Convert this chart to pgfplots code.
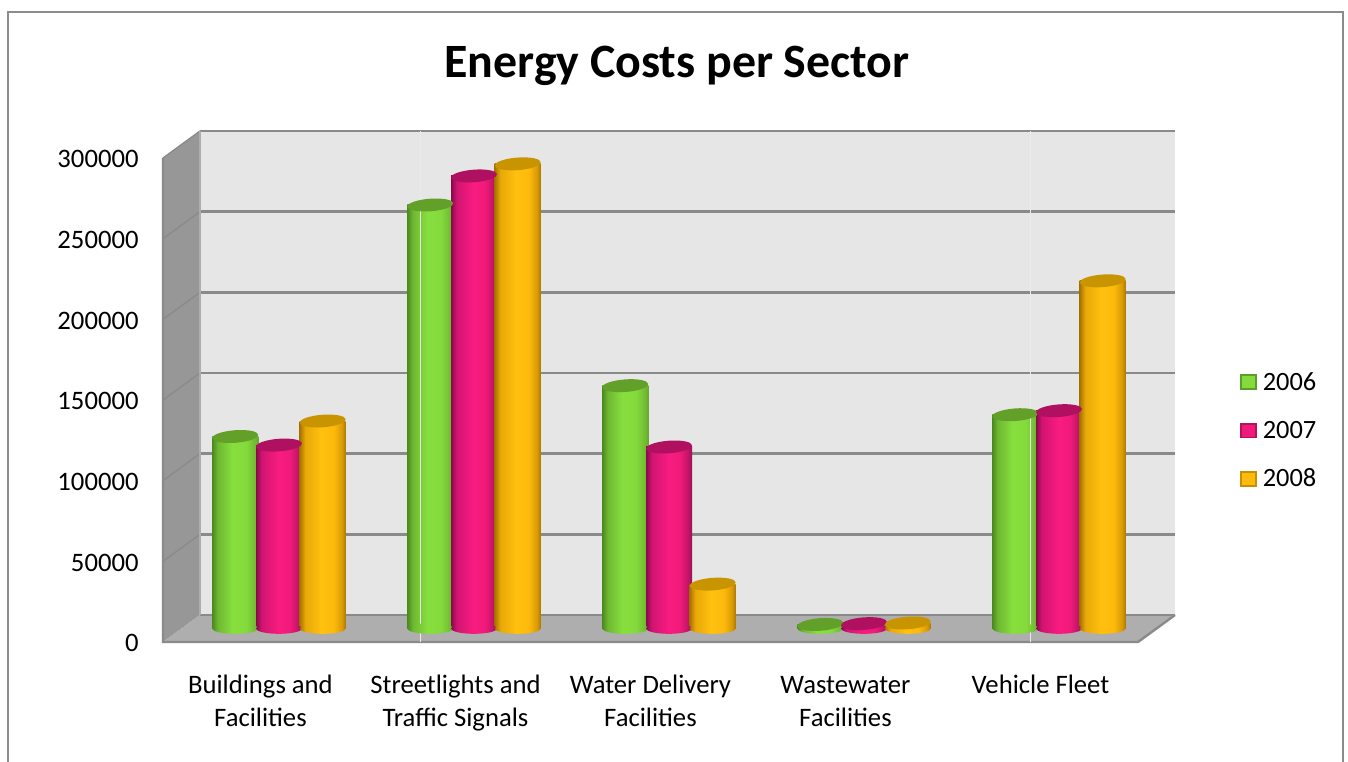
\documentclass[border=0pt]{standalone}
\usepackage{fontspec}
\setmainfont{Carlito}
\usepackage{pgfplots}
\pgfplotsset{compat=1.18}

\definecolor{wallback}{HTML}{E6E6E6}
\definecolor{wallside}{HTML}{979797}
\definecolor{wallfloor}{HTML}{AEAEAE}
\definecolor{gridgray}{HTML}{8A8A8A}
\definecolor{framegray}{HTML}{8C8C8C}
\definecolor{greentop}{HTML}{62A02A}
\definecolor{magentatop}{HTML}{B01060}
\definecolor{orangetop}{HTML}{C89400}
\definecolor{greenface}{HTML}{85DB3C}
\definecolor{magentaface}{HTML}{EF1A7A}
\definecolor{orangeface}{HTML}{FFBB0D}
\definecolor{greenrim}{HTML}{5C9E2C}
\definecolor{magentarim}{HTML}{B5125E}
\definecolor{orangerim}{HTML}{C88F00}
% Stops of the cylinder sides
\definecolor{ga}{HTML}{4A8A1E}\definecolor{gb}{HTML}{6FB832}\definecolor{gc}{HTML}{87DF3E}
\definecolor{gd}{HTML}{84DA3C}\definecolor{ge}{HTML}{70B832}\definecolor{gf}{HTML}{68A82E}
\definecolor{ma}{HTML}{850A48}\definecolor{mb}{HTML}{D01470}\definecolor{mc}{HTML}{F91C80}
\definecolor{md}{HTML}{F01A7A}\definecolor{me}{HTML}{C01466}\definecolor{mf}{HTML}{9A0E54}
\definecolor{oa}{HTML}{A87400}\definecolor{ob}{HTML}{E8A808}\definecolor{oc}{HTML}{FFC00E}
\definecolor{od}{HTML}{FDBA0C}\definecolor{oe}{HTML}{D89A06}\definecolor{of}{HTML}{AA7800}

% Cylinder sides: the part between 25bp and 75bp spans the width of the bar
\pgfdeclarehorizontalshading{greencyl}{100bp}{
  color(0bp)=(ga); color(25bp)=(ga); color(31bp)=(gb);
  color(47bp)=(gc); color(62bp)=(gd); color(72bp)=(ge); color(75bp)=(gf); color(100bp)=(gf)}
\pgfdeclarehorizontalshading{magentacyl}{100bp}{
  color(0bp)=(ma); color(25bp)=(ma); color(31bp)=(mb);
  color(50bp)=(mc); color(62bp)=(md); color(71bp)=(me); color(75bp)=(mf); color(100bp)=(mf)}
\pgfdeclarehorizontalshading{orangecyl}{100bp}{
  color(0bp)=(oa); color(25bp)=(oa); color(31bp)=(ob);
  color(48bp)=(oc); color(62bp)=(od); color(71bp)=(oe); color(75bp)=(of); color(100bp)=(of)}

% Ellipses closing a cylinder at the top (tilted) and at the base
\pgfdeclareplotmark{cyltop}{\pgfpathellipse{\pgfpointorigin}{\pgfqpoint{17.25pt}{1.3pt}}{\pgfqpoint{-0.35pt}{4.7pt}}\pgfusepathqfill}
\newcommand{\cylbase}{\pgfpathellipse{\pgfpointorigin}{\pgfqpoint{17.25pt}{0pt}}{\pgfqpoint{0pt}{4pt}}}
\pgfdeclareplotmark{basegreen}{\cylbase\pgfshadepath{greencyl}{0}\pgfusepath{discard}}
\pgfdeclareplotmark{basemagenta}{\cylbase\pgfshadepath{magentacyl}{0}\pgfusepath{discard}}
\pgfdeclareplotmark{baseorange}{\cylbase\pgfshadepath{orangecyl}{0}\pgfusepath{discard}}

% One cylinder: series colour, offset inside the group, category, value
\newcommand{\cylinder}[4]{%
  \addplot[forget plot,only marks,mark=base#1,mark options={xshift=#2}] coordinates {(#3,0)};
  \addplot[forget plot,ybar,bar width=34.5pt,bar shift=#2,draw=none,shade,shading=#1cyl] coordinates {(#3,#4)};
  \addplot[forget plot,only marks,mark=cyltop,mark options={xshift=#2,fill=#1top,draw=none,color=#1top}] coordinates {(#3,#4)};
}
\newcommand{\legendswatch}[2]{\addlegendimage{legend image code/.code={\draw[fill=#1,draw=#2,line width=1.4pt] (0pt,-5.2pt) rectangle (11.2pt,5.2pt);}}}

\begin{document}
\begin{tikzpicture}[x=0.75pt,y=0.75pt]
\path[use as bounding box,fill=white] (0,0) rectangle (1348,762);
% Chart frame, running off the lower edge
\draw[framegray,line width=1.6pt] (8,-2) -- (8,750) -- (1343,750) -- (1343,-2);

\begin{axis}[
  at={(136.125pt,100.125pt)},anchor=south west,
  scale only axis,width=731.25pt,height=363pt,
  xmin=-0.5,xmax=4.5,ymin=0,ymax=300000,
  clip=false,
  axis line style={draw=none},
  major tick length=0pt,
  tick style={draw=none},
  scaled y ticks=false,
  ytick={0,50000,100000,150000,200000,250000,300000},
  xtick={0,1,2,3,4},
  xticklabels={\strut Buildings and\\Facilities,\strut Streetlights and\\Traffic Signals,\strut Water Delivery\\Facilities,\strut Wastewater\\Facilities,\strut Vehicle Fleet},
  tick label style={font=\fontsize{20}{24.75}\selectfont},
  xticklabel style={align=center,anchor=north,inner sep=0pt,xshift=-13.9pt,yshift=-31pt},
  yticklabel style={anchor=east,inner sep=0pt,xshift=-32pt,yshift=-11.2pt,
    /pgf/number format/fixed,/pgf/number format/1000 sep={},/pgf/number format/assume math mode=true},
  title={Energy Costs per Sector},
  title style={font=\fontsize{35.9}{38}\bfseries\selectfont,at={(0.5,1)},anchor=center,inner sep=0pt,xshift=6pt,yshift=53pt},
  legend style={draw=none,fill=none,at={(1.0,0)},anchor=west,xshift=62.7pt,yshift=148.4pt,
    font=\fontsize{19.8}{22}\selectfont,row sep=17.6pt,inner sep=0pt},
  legend cell align=left,
]
\legendswatch{greenface}{greenrim}\addlegendentry{\hspace{2.2pt}2006}
\legendswatch{magentaface}{magentarim}\addlegendentry{\hspace{2.2pt}2007}
\legendswatch{orangeface}{orangerim}\addlegendentry{\hspace{2.2pt}2008}

% Walls and floor of the box
\fill[wallback] (axis cs:-0.40513,8368) rectangle (axis cs:4.59487,308368);
\fill[wallside] (axis cs:-0.59487,-8368) -- (axis cs:-0.40513,8368) -- (axis cs:-0.40513,308368) -- (axis cs:-0.59487,291632) -- cycle;
\fill[wallfloor] (axis cs:-0.59487,-8368) -- (axis cs:-0.40513,8368) -- (axis cs:4.59487,8368) -- (axis cs:4.40513,-8368) -- cycle;
% Gridlines on the back wall
\draw[gridgray,line width=2pt] (axis cs:-0.40513,308368) -- (axis cs:4.59487,308368);
\draw[gridgray,line width=2pt] (axis cs:-0.40513,258368) -- (axis cs:4.59487,258368);
\draw[gridgray,line width=2pt] (axis cs:-0.40513,208368) -- (axis cs:4.59487,208368);
\draw[gridgray,line width=2pt] (axis cs:-0.40513,158368) -- (axis cs:4.59487,158368);
\draw[gridgray,line width=2pt] (axis cs:-0.40513,108368) -- (axis cs:4.59487,108368);
\draw[gridgray,line width=2pt] (axis cs:-0.40513,58368) -- (axis cs:4.59487,58368);
\draw[gridgray,line width=1pt] (axis cs:-0.40513,8368) -- (axis cs:4.59487,8368);
% Gridlines on the side wall
\draw[gridgray,line width=1pt] (axis cs:-0.59487,291632) -- (axis cs:-0.40513,308368);
\draw[gridgray,line width=1pt] (axis cs:-0.59487,241632) -- (axis cs:-0.40513,258368);
\draw[gridgray,line width=1pt] (axis cs:-0.59487,191632) -- (axis cs:-0.40513,208368);
\draw[gridgray,line width=1pt] (axis cs:-0.59487,141632) -- (axis cs:-0.40513,158368);
\draw[gridgray,line width=1pt] (axis cs:-0.59487,91632) -- (axis cs:-0.40513,108368);
\draw[gridgray,line width=1pt] (axis cs:-0.59487,41632) -- (axis cs:-0.40513,58368);
\draw[gridgray!70!white,line width=0.8pt] (axis cs:-0.40513,8368) -- (axis cs:-0.40513,308368);
% Front edges of the box
\draw[gridgray,line width=1.8pt] (axis cs:-0.59487,291632) -- (axis cs:-0.59487,-8368) -- (axis cs:4.40513,-8368) -- (axis cs:4.59487,8368);

% Buildings and Facilities
\cylinder{green}{-32.8pt}{0}{119000}
\cylinder{magenta}{0pt}{0}{113700}
\cylinder{orange}{32.8pt}{0}{128600}
% Streetlights and Traffic Signals
\cylinder{green}{-32.8pt}{1}{262500}
\cylinder{magenta}{0pt}{1}{280500}
\cylinder{orange}{32.8pt}{1}{288000}
% Water Delivery Facilities
\cylinder{green}{-32.8pt}{2}{150500}
\cylinder{magenta}{0pt}{2}{112500}
\cylinder{orange}{32.8pt}{2}{27500}
% Wastewater Facilities
\cylinder{green}{-32.8pt}{3}{2500}
\cylinder{magenta}{0pt}{3}{3000}
\cylinder{orange}{32.8pt}{3}{3400}
% Vehicle Fleet
\cylinder{green}{-32.8pt}{4}{132500}
\cylinder{magenta}{0pt}{4}{135000}
\cylinder{orange}{32.8pt}{4}{215500}

% Thin light verticals crossing the box
\draw[white!92!black,line width=0.7pt] (axis cs:0.728,308368) -- (axis cs:0.728,-8368);
\draw[white!92!black,line width=0.7pt] (axis cs:3.856,308368) -- (axis cs:3.856,-8368);
\end{axis}
\end{tikzpicture}
\end{document}
